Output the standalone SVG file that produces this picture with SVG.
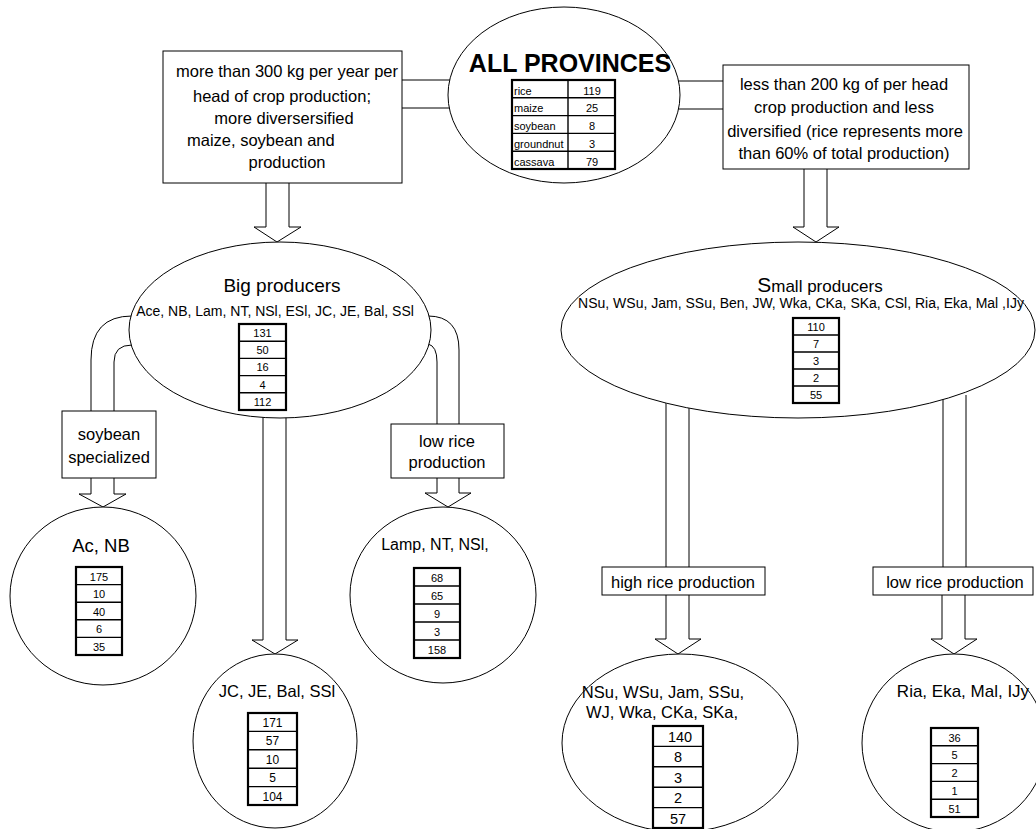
<svg xmlns="http://www.w3.org/2000/svg" width="1036" height="829" viewBox="0 0 1036 829">
<style>
text{font-family:"Liberation Sans",Arial,sans-serif;fill:#000}
.ln{fill:none;stroke:#000;stroke-width:1}
.arr{fill:#fff;stroke:#000;stroke-width:1}
.node{fill:#fff;stroke:#000;stroke-width:1}
.tb{fill:#fff;stroke:#000;stroke-width:2.2}
.rl{stroke:#000;stroke-width:1.4}
.bx{font-size:16.5px;text-anchor:middle}
.v{font-size:11px;text-anchor:middle}
.v12{font-size:12px;text-anchor:middle}
.v14{font-size:14.5px;text-anchor:middle}
.lab{font-size:11px}
</style>
<rect width="1036" height="829" fill="#fff"/>
<g id="connectors">
<path class="ln" d="M402,80 H456 M402,108 H456"/>
<path class="ln" d="M672,81 H723 M672,109 H723"/>
<path class="arr" d="M266,183 V227 H254 L277,242 L301,227 H289 V183"/>
<path class="arr" d="M804,169 V227 H793 L816,242 L839,227 H827 V169"/>
<path class="ln" d="M132,316 Q91,316 91,360 V411"/>
<path class="ln" d="M132,345 Q114,345 114,362 V411"/>
<path class="arr" d="M91,478 V494 H79 L103,507 L126,494 H114 V478"/>
<path class="ln" d="M428,316 Q459,316 459,350 V424"/>
<path class="ln" d="M428,344 Q437,346 437,362 V424"/>
<path class="arr" d="M437,478 V493 H425 L448,507 L471,493 H459 V478"/>
<path class="arr" d="M263,410 V640 H252 L275,654 L298,640 H286 V410"/>
<path class="ln" d="M666,395 V567 M689,395 V567"/>
<path class="arr" d="M666,595 V639 H655 L678,654 L701,639 H689 V595"/>
<path class="ln" d="M943,395 V567 M966,395 V567"/>
<path class="arr" d="M942,595 V639 H931 L954,654 L977,639 H965 V595"/>
</g>
<g id="all-provinces">
<ellipse class="node" cx="564" cy="95" rx="116" ry="88"/>
<text x="570" y="72" font-size="25" font-weight="bold" text-anchor="middle">ALL PROVINCES</text>
<rect class="tb" x="512" y="80" width="103" height="89"/>
<path class="rl" d="M568,80 V169 M512,97.8 H615 M512,115.6 H615 M512,133.4 H615 M512,151.2 H615"/>
<text class="lab" x="514" y="94.5">rice</text><text class="v" x="592" y="94.5">119</text>
<text class="lab" x="514" y="112.3">maize</text><text class="v" x="592" y="112.3">25</text>
<text class="lab" x="514" y="130.1">soybean</text><text class="v" x="592" y="130.1">8</text>
<text class="lab" x="514" y="147.9">groundnut</text><text class="v" x="592" y="147.9">3</text>
<text class="lab" x="514" y="165.7">cassava</text><text class="v" x="592" y="165.7">79</text>
</g>
<g id="big-criteria">
<rect class="node" x="163" y="51" width="239" height="132"/>
<text class="bx" x="287" y="77">more than 300 kg per year per</text>
<text class="bx" x="282" y="102">head of crop production;</text>
<text class="bx" x="284" y="124">more diversersified</text>
<text x="187" y="146" font-size="16.5">maize, soybean and</text>
<text class="bx" x="287" y="168">production</text>
</g>
<g id="small-criteria">
<rect class="node" x="723" y="65" width="246" height="104"/>
<text class="bx" x="844" y="90">less than 200 kg of per head</text>
<text class="bx" x="844" y="113">crop production and less</text>
<text class="bx" x="845" y="137">diversified (rice represents more</text>
<text class="bx" x="844" y="159">than 60% of total production)</text>
</g>
<g id="big-producers">
<ellipse class="node" cx="280" cy="330" rx="151" ry="88"/>
<text x="282" y="292" font-size="19" text-anchor="middle">Big producers</text>
<text x="275" y="316" font-size="14" text-anchor="middle">Ace, NB, Lam, NT, NSl, ESl, JC, JE, Bal, SSl</text>
<rect class="tb" x="239" y="324" width="47" height="86"/>
<path class="rl" d="M239,341.2 H286 M239,358.4 H286 M239,375.6 H286 M239,392.8 H286"/>
<text class="v" x="262.5" y="337">131</text>
<text class="v" x="262.5" y="354.2">50</text>
<text class="v" x="262.5" y="371.4">16</text>
<text class="v" x="262.5" y="388.6">4</text>
<text class="v" x="262.5" y="405.8">112</text>
</g>
<g id="small-producers">
<ellipse class="node" cx="798" cy="330" rx="237" ry="88"/>
<text x="820" y="292" font-size="17" text-anchor="middle"><tspan font-size="21">S</tspan>mall producers</text>
<text x="801" y="308" font-size="14" text-anchor="middle">NSu, WSu, Jam, SSu, Ben, JW, Wka, CKa, SKa, CSl, Ria, Eka, Mal ,IJy</text>
<rect class="tb" x="793" y="318" width="46" height="85"/>
<path class="rl" d="M793,335 H839 M793,352 H839 M793,369 H839 M793,386 H839"/>
<text class="v" x="816" y="331">110</text>
<text class="v" x="816" y="348">7</text>
<text class="v" x="816" y="365">3</text>
<text class="v" x="816" y="382">2</text>
<text class="v" x="816" y="399">55</text>
</g>
<g id="soybean-box">
<rect class="node" x="62" y="411" width="94" height="67"/>
<text class="bx" x="109" y="440">soybean</text>
<text class="bx" x="109" y="463">specialized</text>
</g>
<g id="low-rice-box-left">
<rect class="node" x="391" y="424" width="113" height="54"/>
<text class="bx" x="447" y="447">low rice</text>
<text class="bx" x="447" y="468">production</text>
</g>
<g id="high-rice-box">
<rect class="node" x="602" y="567" width="163" height="28"/>
<text class="bx" x="683" y="588">high rice production</text>
</g>
<g id="low-rice-box-right">
<rect class="node" x="873" y="567" width="160" height="28"/>
<text class="bx" x="955" y="588">low rice production</text>
</g>
<g id="ac-nb">
<ellipse class="node" cx="103" cy="596" rx="93" ry="89"/>
<text x="101" y="552" font-size="18.5" text-anchor="middle">Ac, NB</text>
<rect class="tb" x="76" y="567" width="46" height="88"/>
<path class="rl" d="M76,584.6 H122 M76,602.2 H122 M76,619.8 H122 M76,637.4 H122"/>
<text class="v" x="99" y="580.5">175</text>
<text class="v" x="99" y="598.1">10</text>
<text class="v" x="99" y="615.7">40</text>
<text class="v" x="99" y="633.3">6</text>
<text class="v" x="99" y="650.9">35</text>
</g>
<g id="lamp">
<ellipse class="node" cx="443" cy="595" rx="93" ry="88"/>
<text x="435" y="550" font-size="16" text-anchor="middle">Lamp, NT, NSl,</text>
<rect class="tb" x="414" y="568" width="46" height="90"/>
<path class="rl" d="M414,586 H460 M414,604 H460 M414,622 H460 M414,640 H460"/>
<text class="v" x="437" y="581.5">68</text>
<text class="v" x="437" y="599.5">65</text>
<text class="v" x="437" y="617.5">9</text>
<text class="v" x="437" y="635.5">3</text>
<text class="v" x="437" y="653.5">158</text>
</g>
<g id="jc-je">
<ellipse class="node" cx="275" cy="741" rx="82" ry="87"/>
<text x="277" y="697" font-size="16.5" text-anchor="middle">JC, JE, Bal, SSl</text>
<rect class="tb" x="248" y="713" width="49" height="92"/>
<path class="rl" d="M248,731.4 H297 M248,749.8 H297 M248,768.2 H297 M248,786.6 H297"/>
<text class="v12" x="272.5" y="727">171</text>
<text class="v12" x="272.5" y="745.4">57</text>
<text class="v12" x="272.5" y="763.8">10</text>
<text class="v12" x="272.5" y="782.2">5</text>
<text class="v12" x="272.5" y="800.6">104</text>
</g>
<g id="nsu">
<ellipse class="node" cx="680" cy="743" rx="118" ry="89"/>
<text x="663" y="698" font-size="16.5" text-anchor="middle">NSu, WSu, Jam, SSu,</text>
<text x="662" y="718" font-size="16.5" text-anchor="middle">WJ, Wka, CKa, SKa,</text>
<rect class="tb" x="653" y="726" width="50" height="102"/>
<path class="rl" d="M653,746.4 H703 M653,766.8 H703 M653,787.2 H703 M653,807.6 H703"/>
<text class="v14" x="680" y="742">140</text>
<text class="v14" x="678" y="762.4">8</text>
<text class="v14" x="678" y="782.8">3</text>
<text class="v14" x="678" y="803.2">2</text>
<text class="v14" x="678" y="823.6">57</text>
</g>
<g id="ria">
<ellipse class="node" cx="954" cy="743" rx="92" ry="89"/>
<text x="963" y="697" font-size="17" text-anchor="middle">Ria, Eka, Mal, IJy</text>
<rect class="tb" x="931" y="728" width="47" height="89"/>
<path class="rl" d="M931,745.8 H978 M931,763.6 H978 M931,781.4 H978 M931,799.2 H978"/>
<text class="v" x="954.5" y="741.5">36</text>
<text class="v" x="954.5" y="759.3">5</text>
<text class="v" x="954.5" y="777.1">2</text>
<text class="v" x="954.5" y="794.9">1</text>
<text class="v" x="954.5" y="812.7">51</text>
</g>
</svg>
